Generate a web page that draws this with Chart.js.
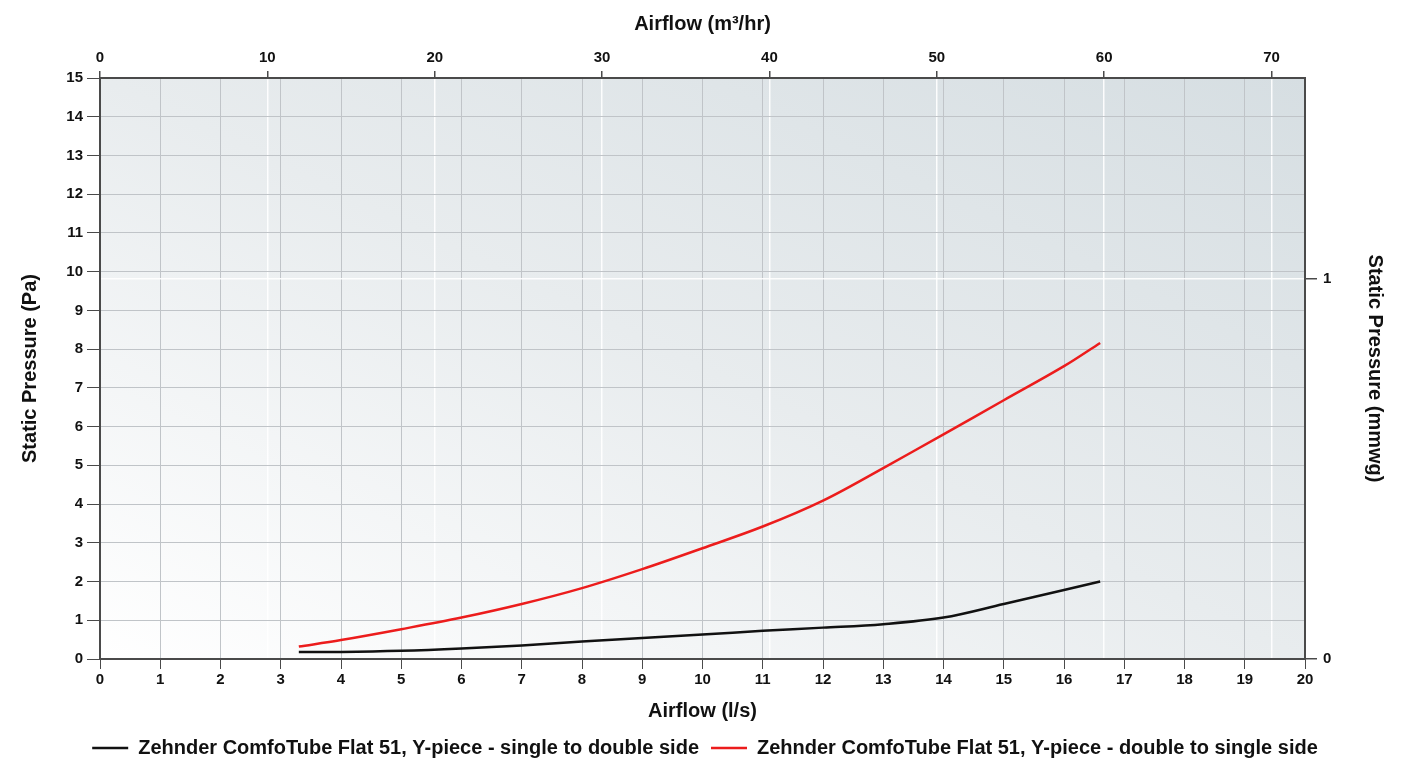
<!DOCTYPE html>
<html lang="en">
<head>
    <meta charset="UTF-8">
    <title>Zehnder ComfoTube Flat 51 Y-piece - pressure drop</title>
    <script src="https://cdn.jsdelivr.net/npm/chart.js"></script>
    <style>
        html, body { margin: 0; padding: 0; background: #fff; }
    </style>
</head>
<body>
    <canvas id="pressureChart" width="1410" height="759"></canvas>
    <script>
        // Values
        const airflowLs = [3.3, 4, 5, 6, 7, 8, 9, 10, 11, 12, 13, 14, 15, 16, 16.6];
        const singleToDouble = [0.18, 0.18, 0.21, 0.27, 0.35, 0.45, 0.54, 0.63, 0.73, 0.81, 0.90, 1.07, 1.42, 1.78, 2.0];
        const doubleToSingle = [0.32, 0.49, 0.77, 1.07, 1.42, 1.83, 2.32, 2.86, 3.42, 4.09, 4.93, 5.80, 6.68, 7.56, 8.16];

        const seriesNames = [
            'Zehnder ComfoTube Flat 51, Y-piece - single to double side',
            'Zehnder ComfoTube Flat 51, Y-piece - double to single side'
        ];

        // axis ranges: l/s bottom, m3/hr top, Pa left, mmwg right
        const lsMax = 20;
        const m3hMax = lsMax * 3.6;
        const paMax = 15;
        const mmwgMax = paMax / 9.80665;

        const toPoints = (xs, ys) => xs.map((x, i) => ({ x: x, y: ys[i] }));

        Chart.defaults.font.family = '"Liberation Sans", Arial, sans-serif';
        Chart.defaults.font.weight = 'bold';
        Chart.defaults.color = '#111';

        const tickFont = { size: 15, weight: 'bold' };
        const titleFont = { size: 20, weight: 'bold' };
        const gridGray = '#c0c4c8';
        const axisDark = '#4a4a4a';

        // plot background: white at bottom-left fading to grey-blue at top-right,
        // top-left and bottom-right corners at the same mid tone
        const plotBackground = {
            id: 'plotBackground',
            beforeDraw(chart) {
                const { ctx, chartArea: a } = chart;
                const w = a.right - a.left, h = a.bottom - a.top;
                const k = 2 * w * h / (w * w + h * h);
                const g = ctx.createLinearGradient(a.left, a.bottom, a.left + h * k, a.bottom - w * k);
                g.addColorStop(0, '#ffffff');
                g.addColorStop(0.5, '#e8ecee');
                g.addColorStop(1, '#d6dee2');
                ctx.save();
                ctx.fillStyle = g;
                ctx.fillRect(a.left, a.top, w, h);
                ctx.restore();
            }
        };

        const edgeless = (color, lo, hi) => (c) =>
            (c.tick && (c.tick.value === lo || c.tick.value === hi)) ? 'rgba(0,0,0,0)' : color;

        const ctx = document.getElementById('pressureChart').getContext('2d');
        new Chart(ctx, {
            type: 'line',
            data: {
                datasets: [
                    {
                        label: seriesNames[0],
                        data: toPoints(airflowLs, singleToDouble),
                        borderColor: '#111111',
                        backgroundColor: '#111111',
                        borderWidth: 2.5,
                        pointRadius: 0,
                        tension: 0.35,
                        xAxisID: 'x',
                        yAxisID: 'y'
                    },
                    {
                        label: seriesNames[1],
                        data: toPoints(airflowLs, doubleToSingle),
                        borderColor: '#ec1c1c',
                        backgroundColor: '#ec1c1c',
                        borderWidth: 2.5,
                        pointRadius: 0,
                        tension: 0.35,
                        xAxisID: 'x',
                        yAxisID: 'y'
                    }
                ]
            },
            options: {
                responsive: false,
                animation: false,
                layout: { padding: { left: 0, right: 0, top: 0, bottom: -9 } },
                plugins: {
                    tooltip: { enabled: false },
                    legend: {
                        position: 'bottom',
                        labels: {
                            usePointStyle: true,
                            pointStyle: 'line',
                            pointStyleWidth: 36,
                            padding: 12,
                            color: '#111',
                            font: { size: 20, weight: 'bold' }
                        }
                    }
                },
                scales: {
                    x: {
                        type: 'linear',
                        position: 'bottom',
                        min: 0,
                        max: lsMax,
                        afterFit: (s) => { s.height = 67; },
                        ticks: { stepSize: 1, padding: 2, font: tickFont, color: '#111' },
                        grid: { color: edgeless(gridGray, 0, lsMax), tickColor: axisDark, tickLength: 10 },
                        border: { color: axisDark, width: 2 },
                        title: { display: true, text: 'Airflow (l/s)', font: titleFont, color: '#111', padding: { top: 0, bottom: 3 } }
                    },
                    x2: {
                        type: 'linear',
                        position: 'top',
                        min: 0,
                        max: m3hMax,
                        afterFit: (s) => { s.height = 78; },
                        afterBuildTicks: (s) => { s.ticks = s.ticks.filter(t => t.value % 10 === 0); },
                        ticks: { stepSize: 10, padding: 4, font: tickFont, color: '#111' },
                        grid: { color: edgeless('rgba(255,255,255,0.9)', 0, m3hMax), lineWidth: 1.5, tickColor: axisDark, tickLength: 7 },
                        border: { color: axisDark, width: 2 },
                        title: { display: true, text: 'Airflow (m³/hr)', font: titleFont, color: '#111', padding: { top: 12, bottom: 0 } }
                    },
                    y: {
                        type: 'linear',
                        position: 'left',
                        min: 0,
                        max: paMax,
                        afterFit: (s) => { s.width = 100; },
                        ticks: { stepSize: 1, padding: 4, font: tickFont, color: '#111' },
                        grid: { color: edgeless(gridGray, 0, paMax), tickColor: axisDark, tickLength: 13 },
                        border: { color: axisDark, width: 2 },
                        title: { display: true, text: 'Static Pressure (Pa)', font: titleFont, color: '#111', padding: { top: 18, bottom: 0 } }
                    },
                    y2: {
                        type: 'linear',
                        position: 'right',
                        min: 0,
                        max: mmwgMax,
                        afterFit: (s) => { s.width = 105; },
                        afterBuildTicks: (s) => { s.ticks = s.ticks.filter(t => Number.isInteger(t.value)); },
                        ticks: { stepSize: 1, padding: 6, font: tickFont, color: '#111' },
                        grid: { color: edgeless('rgba(255,255,255,0.9)', 0, mmwgMax), lineWidth: 1.5, tickColor: axisDark, tickLength: 12 },
                        border: { color: axisDark, width: 2 },
                        title: { display: true, text: 'Static Pressure (mmwg)', font: titleFont, color: '#111', padding: { top: 23, bottom: 0 } }
                    }
                }
            },
            plugins: [plotBackground]
        });
    </script>
</body>
</html>
